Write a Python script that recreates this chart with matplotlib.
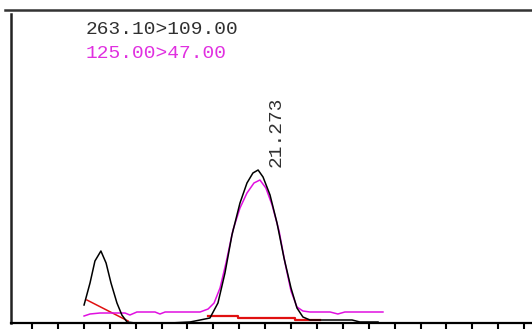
import matplotlib.pyplot as plt
import numpy as np

# MRM transitions, retention time (min) vs. response
black_t = [20.601, 20.624, 20.643, 20.666, 20.686, 20.705, 20.728, 20.747, 20.767,
           20.798, 20.856, 20.933, 21.010, 21.049, 21.087, 21.118, 21.145, 21.172,
           21.203, 21.230, 21.253, 21.273, 21.292, 21.319, 21.346, 21.373, 21.400,
           21.423, 21.446, 21.473, 21.512, 21.589, 21.636, 21.666, 21.736]
black_y = [18, 40, 62, 72, 60, 40, 20, 8, 1,
           0, 0, 0, 1, 3, 5, 20, 50, 88,
           120, 140, 150, 153, 146, 128, 100, 65, 35,
           15, 6, 3, 3, 3, 3, 1, 1]

magenta_t = [20.601, 20.624, 20.663, 20.759, 20.778, 20.805, 20.875, 20.894, 20.914,
             21.049, 21.080, 21.103, 21.126, 21.149, 21.176, 21.203, 21.230, 21.257,
             21.280, 21.303, 21.327, 21.354, 21.377, 21.400, 21.423, 21.446, 21.473,
             21.551, 21.581, 21.608, 21.755]
magenta_y = [7, 9, 10, 10, 8, 11, 11, 9, 11,
             11, 14, 20, 35, 60, 93, 115, 130, 140,
             143, 135, 118, 92, 60, 32, 16, 12, 11,
             11, 9, 11, 11]

# integration baselines
base1_t = [20.612, 20.771]
base1_y = [23, 2]
base2_t = [21.080, 21.195, 21.195, 21.415, 21.415, 21.512]
base2_y = [7, 7, 5, 5, 3, 3]

peak_rt = 21.273
peak_h = 153
trace_labels = ["263.10>109.00", "125.00>47.00"]

W, H = 532, 330
fig = plt.figure(figsize=(W / 100, H / 100), dpi=100)
ax = fig.add_axes([11 / W, 7 / H, (W - 11) / W, (323 - 14) / H])

ax.plot(base1_t, base1_y, color="#e01010", lw=1.1)
ax.plot(base2_t, base2_y, color="#e01010", lw=1.6)
ax.plot(magenta_t, magenta_y, color="#e010e0", lw=1.1)
ax.plot(black_t, black_y, color="black", lw=1.1)

x0 = 20.4 - 21 / 259
ax.set_xlim(x0, x0 + (W - 11) / 259)
ax.set_ylim(0, 309)

ax.set_xticks(np.round(np.arange(20.4, 22.35, 0.1), 1))
ax.set_xticklabels([])
ax.set_yticks([])
ax.tick_params(axis="x", direction="out", length=4, width=1.5, color="black")
ax.spines["top"].set_visible(False)
ax.spines["right"].set_visible(False)
ax.spines["bottom"].set_linewidth(1.6)
ax.spines["left"].set_linewidth(1.8)
ax.spines["left"].set_color("#222222")

# frame line across the top
fig.add_artist(plt.Line2D([5 / W, 1], [1 - 9.5 / H, 1 - 9.5 / H],
                          color="#333333", lw=1.8))

font = dict(family="Liberation Mono", fontsize=14)
fig.text(86 / W, 1 - 30 / H, trace_labels[0], color="#303030", va="center", **font)
fig.text(86 / W, 1 - 53 / H, trace_labels[1], color="#e030e0", va="center", **font)

ax.annotate(f"{peak_rt:.3f}", xy=(peak_rt, peak_h), xytext=(10, 3),
            textcoords="offset pixels", rotation=90, ha="left", va="bottom",
            color="#303030", **font)

fig.savefig("out.png", dpi=100)
